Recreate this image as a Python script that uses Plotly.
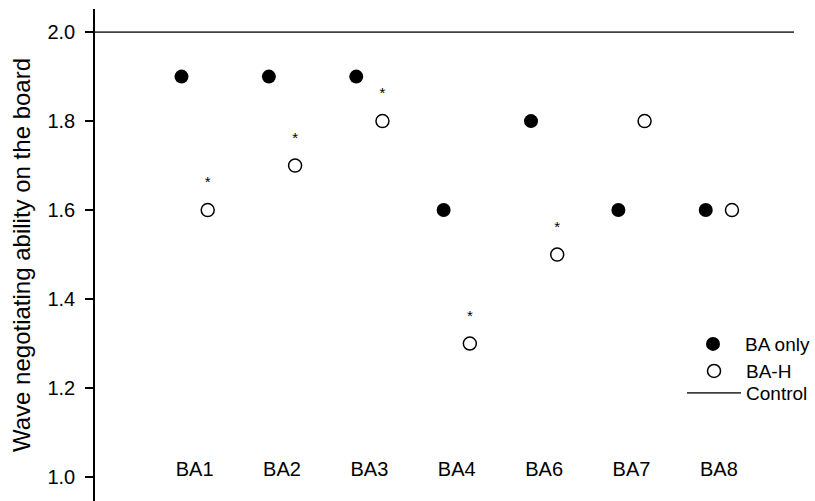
import plotly.graph_objects as go

categories = ["BA1", "BA2", "BA3", "BA4", "BA6", "BA7", "BA8"]
ba_only = [1.9, 1.9, 1.9, 1.6, 1.8, 1.6, 1.6]
ba_h = [1.6, 1.7, 1.8, 1.3, 1.5, 1.8, 1.6]
significant = [True, True, True, True, True, False, False]
control_value = 2.0
y_ticks = [1.0, 1.2, 1.4, 1.6, 1.8, 2.0]

pos = list(range(1, len(categories) + 1))
off = 0.15
x_only = [p - off for p in pos]
x_h = [p + off for p in pos]
xr = [-0.14, 7.86]

font = "Liberation Sans, Arial, sans-serif"
fig = go.Figure()
fig.add_trace(go.Scatter(
    x=x_only, y=ba_only, mode="markers", name="BA only", legend="legend",
    marker=dict(symbol="circle", size=14, color="black", line=dict(width=0)),
))
fig.add_trace(go.Scatter(
    x=x_h, y=ba_h, mode="markers", name="BA-H", legend="legend2",
    marker=dict(symbol="circle", size=13, color="white", line=dict(width=1.5, color="black")),
))
fig.add_trace(go.Scatter(
    x=xr, y=[control_value, control_value], mode="lines", name="Control", legend="legend3",
    line=dict(color="#404040", width=1.8), cliponaxis=False,
))
sx = [x for x, s in zip(x_h, significant) if s]
sy = [y + 0.06 for y, s in zip(ba_h, significant) if s]
fig.add_trace(go.Scatter(
    x=sx, y=sy, mode="text", text=["*"] * len(sx), showlegend=False,
    textfont=dict(size=15, color="black", family=font), hoverinfo="skip",
))

leg_common = dict(xanchor="left", yanchor="middle", bgcolor="rgba(0,0,0,0)",
                  font=dict(size=19, color="black"), itemwidth=54)
fig.update_layout(
    width=815, height=501,
    margin=dict(l=95, r=20, t=9, b=0),
    paper_bgcolor="white", plot_bgcolor="white",
    font=dict(family=font, size=20, color="black"),
    showlegend=True,
    legend=dict(x=0.8386, y=0.319, **leg_common),
    legend2=dict(x=0.8386, y=0.264, **leg_common),
    legend3=dict(x=0.8386, y=0.2195, **leg_common),
)
fig.update_xaxes(
    range=xr, tickvals=pos, ticktext=categories, showline=False, showgrid=False,
    zeroline=False, ticks="", anchor="free", position=0.0935,
    tickfont=dict(size=20, color="black"),
)
fig.update_yaxes(
    range=[0.946, 2.052], tickvals=y_ticks, ticktext=[f"{v:.1f}" for v in y_ticks],
    showline=True, linecolor="black", linewidth=1.5, ticks="outside", ticklen=8,
    tickcolor="black", tickwidth=1.5, showgrid=False, zeroline=False,
    tickfont=dict(size=20, color="black"), ticklabelstandoff=6,
    title=dict(text="Wave negotiating ability on the board",
               font=dict(size=24, color="black"), standoff=10),
)
fig.write_html("out.html")
